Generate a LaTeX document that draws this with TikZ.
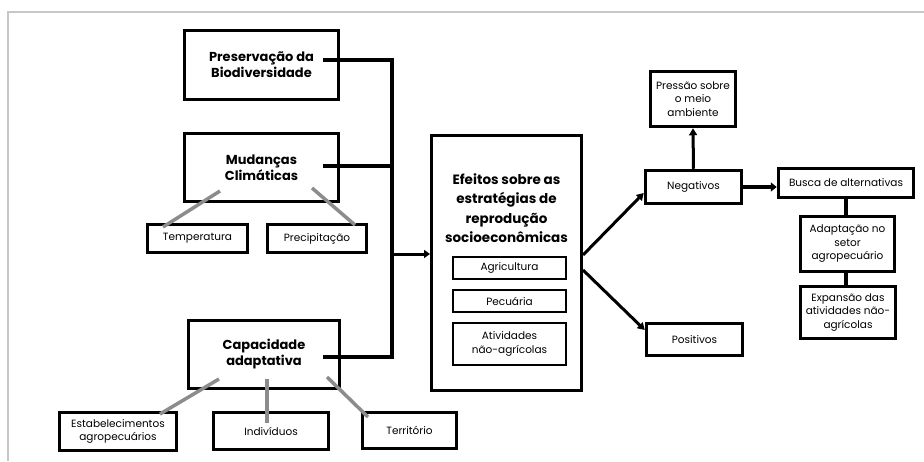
\documentclass[tikz,border=0pt]{standalone}
\usepackage{fontspec}
\setmainfont{Poppins}
\usetikzlibrary{arrows.meta,calc}
\begin{document}
\begin{tikzpicture}[x=1pt,y=-1pt,
  bigbox/.style={draw=black,line width=3.5pt,align=center,inner sep=1pt,font=\fontsize{13}{16}\selectfont\bfseries},
  smallbox/.style={draw=black,line width=3.5pt,align=center,inner sep=1pt,font=\fontsize{10.5}{13.5}\selectfont},
  thinbox/.style={draw=black,line width=2.5pt,align=center,inner sep=1pt,font=\fontsize{10.5}{13.5}\selectfont},
  link/.style={line width=3.5pt,black},
  glink/.style={line width=3.5pt,color=black!45},
  arr/.style={line width=3pt,black,-{Triangle[length=7pt,width=8pt]}},
  inarr/.style={line width=3pt,black,-{Triangle[length=6pt,width=8pt]}},
]
\useasboundingbox (0,0) rectangle (924,461);
\draw[line width=2pt,color=black!22] (924,12) -- (8,12) -- (8,461);

% left column
\node[bigbox,minimum width=154pt,minimum height=69pt] (pres) at (261.5,65) {Preservação da\\Biodiversidade};
\node[bigbox,minimum width=154pt,minimum height=68pt] (mud) at (261.5,167.5) {Mudanças\\Climáticas};
\node[smallbox,minimum width=100pt,minimum height=28pt] (temp) at (197.5,238.5) {Temperatura};
\node[smallbox,minimum width=99pt,minimum height=28pt] (prec) at (317,238.5) {Precipitação};
\node[bigbox,minimum width=151pt,minimum height=68pt] (cap) at (264,354.5) {Capacidade\\adaptativa};
\node[smallbox,minimum width=117pt,minimum height=38pt] (est) at (118,431.5) {Estabelecimentos\\agropecuários};
\node[smallbox,minimum width=115pt,minimum height=37pt] (ind) at (271,431) {Indivíduos};
\node[smallbox,minimum width=94pt,minimum height=36pt] (ter) at (409.5,430.5) {Território};

% centre
\node[draw=black,line width=3.5pt,minimum width=150pt,minimum height=255pt] (ef) at (506.5,263) {};
\node[font=\fontsize{13.5}{19.5}\selectfont\bfseries,align=center,inner sep=0pt] (eft) at (506.5,208) {Efeitos sobre as\\estratégias de\\reprodução\\socioeconômicas};
\node[thinbox,minimum width=113pt,minimum height=22pt] (agr) at (509.5,268) {Agricultura};
\node[thinbox,minimum width=113pt,minimum height=22pt] (pec) at (509.5,301) {Pecuária};
\node[thinbox,minimum width=113pt,minimum height=42pt] (ati) at (509.5,344) {Atividades\\não-agrícolas};

% right
\node[smallbox,minimum width=85pt,minimum height=55pt] (press) at (693,99) {Pressão sobre\\o meio\\ambiente};
\node[smallbox,minimum width=96pt,minimum height=33pt] (neg) at (693.5,187) {Negativos};
\node[smallbox,minimum width=96pt,minimum height=32pt] (pos) at (694.5,339.5) {Positivos};
\node[smallbox,minimum width=135pt,minimum height=29pt] (busca) at (846,183) {Busca de alternativas};
\node[smallbox,minimum width=94pt,minimum height=55pt] (adap) at (847.5,244) {Adaptação no\\setor\\agropecuário};
\node[smallbox,minimum width=95pt,minimum height=52pt] (exp) at (848,312.5) {Expansão das\\atividades não-\\agrícolas};

% connector coordinates
\coordinate (jp) at (392,60);
\coordinate (jm) at (392,166);
\coordinate (ja) at (390,254);
\coordinate (jc) at (392,357);
\coordinate (pin) at (323,60);
\coordinate (min) at (323,166);
\coordinate (cin) at (323,357);
\coordinate (efin) at (430,254);

\draw[link] (pin) -- (jp) -- (jc) -- (cin);
\draw[link] (min) -- (jm);
\draw[inarr] (ja) -- (efin);

% gray links
\draw[glink] (220,191) -- (163,227);
\draw[glink] (312,188) -- (355,225);
\draw[glink] (219,379) -- (160,414);
\draw[glink] (267,379) -- (267,423);
\draw[glink] (327,377) -- (368,417);

% right arrows
\draw[arr] (583,255) -- (neg.west |- 0,193);
\draw[arr] (583,270) -- (pos.west |- 0,330);
\draw[arr] (neg.north) -- (press.south);
\draw[arr,line width=4pt,-{Triangle[length=6pt,width=9pt]}] (neg.east) -- (busca.west |- neg.east);
\draw[link] (busca.south -| 846,0) -- (adap.north -| 846,0);
\draw[link] (adap.south -| 846,0) -- (exp.north -| 846,0);
\end{tikzpicture}
\end{document}
